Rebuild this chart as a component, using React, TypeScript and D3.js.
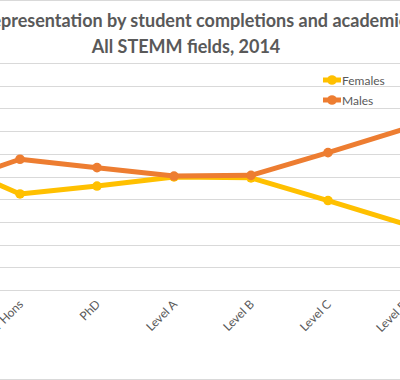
import React from "react";
import * as d3 from "d3";

const categories = ["Bachelor", "Bachelor Hons", "PhD", "Level A", "Level B", "Level C", "Level D"];
const females = [57, 42.3, 45.8, 49.8, 49.4, 39.4, 29];
const males = [46, 57.6, 53.9, 50.2, 50.5, 60.5, 71];
const yTicks = [0, 10, 20, 30, 40, 50, 60, 70, 80, 90, 100];
const seriesNames = ["Females", "Males"];
const colors = ["#FFC000", "#ED7D31"];

const W = 400;
const H = 380;

export default function App() {
  const x = d3.scalePoint<string>().domain(categories).range([-57, 405]);
  const y = d3.scaleLinear().domain([0, 100]).range([290, 63]);
  const line = d3
    .line<number>()
    .x((_, i) => x(categories[i]) as number)
    .y((d) => y(d));
  const series = [females, males];
  const font = "Lato, 'Open Sans', sans-serif";
  return (
    <svg width={W} height={H} style={{ position: "absolute", left: 0, top: 0, background: "#fff" }} fontFamily={font}>
      <rect x={0} y={0} width={W} height={H} fill="#fff" />
      <line x1={0} x2={W} y1={0.5} y2={0.5} stroke="#d9d9d9" />
      <line x1={0} x2={W} y1={379.5} y2={379.5} stroke="#d9d9d9" />
      {yTicks.map((t) => (
        <line key={t} x1={0} x2={W} y1={Math.round(y(t)) + 0.5} y2={Math.round(y(t)) + 0.5} stroke="#d9d9d9" strokeWidth={1} />
      ))}
      <text x={1} y={27} fontSize={18} fontWeight="bold" fill="#595959" textAnchor="end">Gender re</text>
      <text x={1} y={27} fontSize={18} fontWeight="bold" fill="#595959">presentation by student completions and academic levels,</text>
      <text x={186} y={53} fontSize={18} fontWeight="bold" fill="#595959" textAnchor="middle">All STEMM fields, 2014</text>
      {series.map((s, si) => (
        <g key={si}>
          <path d={line(s) || ""} fill="none" stroke={colors[si]} strokeWidth={5} strokeLinejoin="round" />
          {s.map((v, i) => (
            <circle key={i} cx={x(categories[i])} cy={y(v)} r={4.8} fill={colors[si]} />
          ))}
        </g>
      ))}
      {categories.map((c) => {
        const px = (x(c) as number) + 4;
        const py = 305;
        return (
          <text key={c} x={px} y={py} fontSize={12} fill="#595959" textAnchor="end" transform={`rotate(-45 ${px} ${py})`}>
            {c}
          </text>
        );
      })}
      {seriesNames.map((n, i) => (
        <g key={n} transform={`translate(0, ${80 + i * 20})`}>
          <line x1={323} x2={341} y1={0} y2={0} stroke={colors[i]} strokeWidth={5} />
          <circle cx={332} cy={0} r={4.8} fill={colors[i]} />
          <text x={342} y={4.5} fontSize={12} fill="#595959">{n}</text>
        </g>
      ))}
    </svg>
  );
}
